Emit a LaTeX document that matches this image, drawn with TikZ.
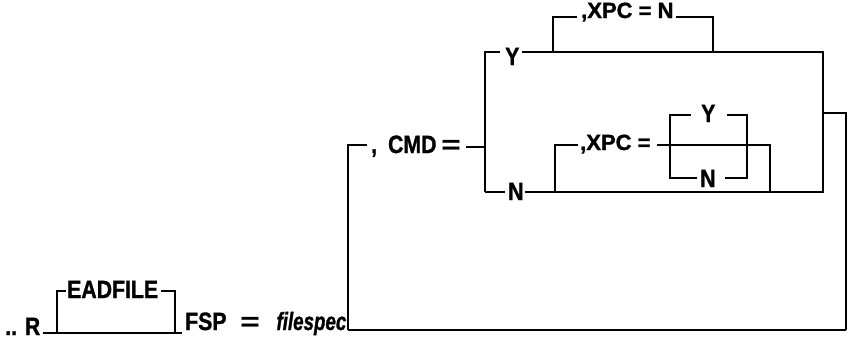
\documentclass[tikz,border=0pt]{standalone}
\usepackage{graphicx}
\usepackage{fontspec}
\setmainfont{Liberation Sans}
\newfontfamily\heavy{Liberation Sans Bold}[FakeBold=1.3]
\newfontfamily\heavyit{Liberation Sans Bold Italic}[FakeBold=1.3]
\newcommand{\cond}[1]{\scalebox{0.85}[1]{#1}}
\newcommand{\wideeq}{\scalebox{1.3}[1]{=}}
\begin{document}
\begin{tikzpicture}[x=1pt,y=-1pt,
  wire/.style={line width=2.9pt, line join=miter},
  lbl/.style={inner sep=0pt, anchor=base west, font=\fontsize{25}{25}\selectfont\heavy},
  sml/.style={lbl, font=\fontsize{22}{22}\selectfont\heavy}]
\useasboundingbox (0,0) rectangle (858,341);
% labels
\node[lbl] (r) at (5,335) {\cond{.. R}};
\node[lbl] (ead) at (67,298) {\cond{EADFILE}};
\node[lbl] (fsp) at (185,330) {\cond{FSP}\hspace{14pt}\wideeq\hspace{17pt}\scalebox{0.75}[1]{\heavyit filespec}};
\node[lbl] (cmd) at (371,153) {\cond{,}\hspace{11pt}\cond{CMD}\hspace{5pt}\wideeq};
\node[lbl] (y1) at (505,65) {\cond{Y}};
\node[lbl] (n1) at (508,200) {\cond{N}};
\node[sml] (xpc1) at (581,18) {,XPC = N};
\node[sml] (xpc2) at (580,150) {,XPC =};
\node[lbl] (y2) at (701,122) {\cond{Y}};
\node[lbl] (n2) at (700,187) {\cond{N}};
% junction points
\coordinate (s) at (43,333);
\coordinate (e1L) at (57,333);
\coordinate (e1R) at (175,333);
\coordinate (e1e) at (182,333);
\coordinate (eadA) at (66,291);
\coordinate (eadB) at (161,291);
\coordinate (c1) at (348,330);
\coordinate (c2) at (846,330);
\coordinate (cmdA) at (367,145);
\coordinate (cmdB) at (466,147);
\coordinate (yn1) at (485,147);
\coordinate (ynT) at (485,52);
\coordinate (ynB) at (485,192);
\coordinate (yA) at (500,52);
\coordinate (yB) at (522,52);
\coordinate (ynTR) at (823,52);
\coordinate (ynBR) at (823,192);
\coordinate (nA) at (505,192);
\coordinate (nB) at (525,192);
\coordinate (j1) at (823,113);
\coordinate (j2) at (846,113);
\coordinate (x1) at (553,52);
\coordinate (x1A) at (577,17);
\coordinate (x1B) at (676,17);
\coordinate (x1C) at (713,52);
\coordinate (x2) at (555,192);
\coordinate (x2A) at (578,145);
\coordinate (x2B) at (657,145);
\coordinate (x2C) at (770,192);
\coordinate (sbT) at (670,115);
\coordinate (sbB) at (670,178);
\coordinate (syA) at (691,115);
\coordinate (syB) at (727,115);
\coordinate (sbBR) at (747,178);
\coordinate (snA) at (697,178);
\coordinate (snB) at (725,178);
% wires
\draw[wire] (s) -- (e1e);
\draw[wire] (e1L) |- (eadA);
\draw[wire] (eadB) -| (e1R);
\draw[wire] (c1) -- (c2);
\draw[wire] (c1) |- (cmdA);
\draw[wire] (cmdB) -- (yn1);
\draw[wire] (ynB) -- (ynT) -- (yA);
\draw[wire] (yB) -- (ynTR) -- (ynBR) -- (nB);
\draw[wire] (ynB) -- (nA);
\draw[wire] (j1) -- (j2) -- (c2);
\draw[wire] (x1) |- (x1A);
\draw[wire] (x1B) -| (x1C);
\draw[wire] (x2) |- (x2A);
\draw[wire] (x2B) -| (x2C);
\draw[wire] (syA) -- (sbT) -- (sbB) -- (snA);
\draw[wire] (syB) -| (sbBR) -- (snB);
\end{tikzpicture}
\end{document}
